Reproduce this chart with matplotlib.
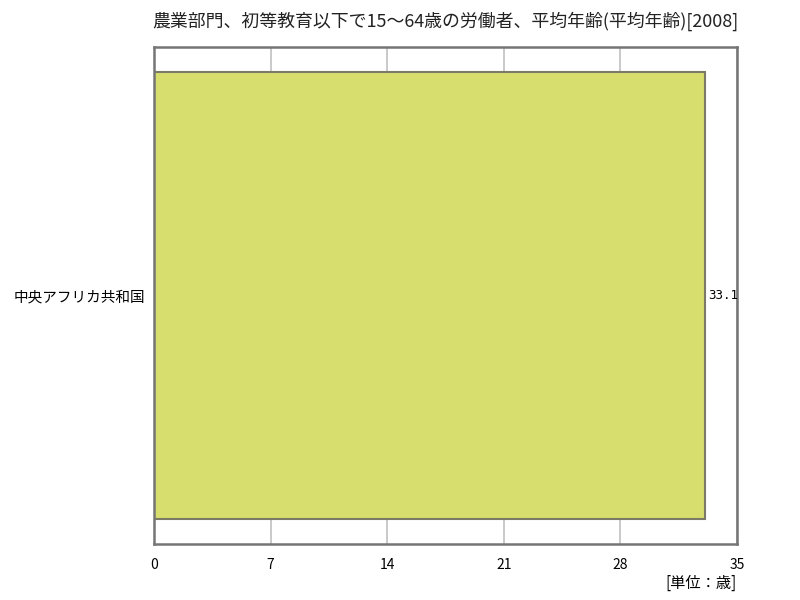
import matplotlib
matplotlib.use("Agg")
import matplotlib.pyplot as plt

plt.rcParams["font.family"] = ["Noto Sans CJK JP", "DejaVu Sans"]

TITLE = "農業部門、初等教育以下で15～64歳の労働者、平均年齢(平均年齢)[2008]"
countries = ["中央アフリカ共和国"]
values = [33.1]
xticks = [0, 7, 14, 21, 28, 35]
unit = "[単位：歳]"

fig = plt.figure(figsize=(8, 6), dpi=100)
ax = fig.add_axes([0.1925, 0.0933, 0.72875, 0.8284])

ax.barh(range(len(countries)), values, height=1.0, color="#d8de6e",
        edgecolor="#7a7a66", linewidth=1.5, zorder=2)
for i, v in enumerate(values):
    ax.text(v + 0.15, i, f"{v}", va="center", ha="left", fontsize=9,
            family=["DejaVu Sans Mono", "DejaVu Sans"])

ax.set_xlim(0, 35)
ax.set_ylim(-0.556, 0.556)
ax.set_xticks(xticks)
ax.set_xticklabels([str(t) for t in xticks], fontsize=10)
ax.set_yticks(range(len(countries)))
ax.set_yticklabels(countries, fontsize=10.5)
ax.tick_params(axis="both", length=0, pad=6)
ax.tick_params(axis="x", pad=10)
ax.xaxis.grid(True, color="#c0c0c0", linewidth=1.2, zorder=0)
ax.set_axisbelow(True)
for s in ax.spines.values():
    s.set_color("#757575")
    s.set_linewidth(1.8)

fig.text(0.557, 0.965, TITLE, ha="center", va="center", fontsize=12.9,
         color="#222222")
fig.text(0.921, 0.028, unit, ha="right", va="center", fontsize=11)

fig.savefig("out.png", dpi=100)
